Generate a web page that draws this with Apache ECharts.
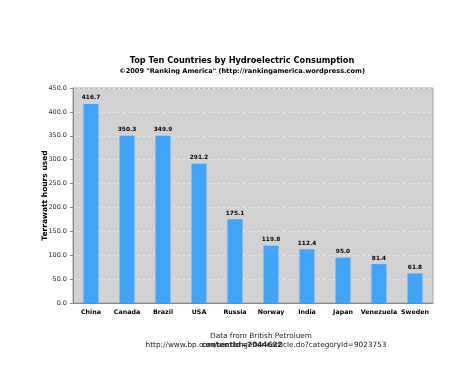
<!DOCTYPE html>
<html>
<head>
<meta charset="utf-8">
<script src="https://cdn.jsdelivr.net/npm/echarts@6/dist/echarts.min.js"></script>
<style>
html, body { margin: 0; padding: 0; background: #fff; }
#chart { width: 474px; height: 366px; }
</style>
</head>
<body>
<div id="chart"></div>
<script>
var countries = ["China", "Canada", "Brazil", "USA", "Russia", "Norway", "India", "Japan", "Venezuela", "Sweden"];
var consumption = [416.7, 350.3, 349.9, 291.2, 175.1, 119.8, 112.4, 95.0, 81.4, 61.8];

var chart = echarts.init(document.getElementById("chart"));
var font = "DejaVu Sans";
chart.setOption({
    animation: false,
    title: [
        {text: "Top Ten Countries by Hydroelectric Consumption", left: 237, top: 52, textAlign: "center",
            textStyle: {fontFamily: font, fontSize: 8.2, fontWeight: "bold", color: "#000"}},
        {text: "\u00a92009 \"Ranking America\" (http://rankingamerica.wordpress.com)", left: 237, top: 63, textAlign: "center",
            textStyle: {fontFamily: font, fontSize: 6.6, fontWeight: "bold", color: "#000"}},
        {text: "Data from British Petroluem", left: 256, top: 328, textAlign: "center",
            textStyle: {fontFamily: font, fontSize: 7.3, fontWeight: "normal", color: "#222"}},
        {text: "http://www.bp.com/sectiongenericarticle.do?categoryId=9023753", left: 261, top: 337, textAlign: "center",
            textStyle: {fontFamily: font, fontSize: 7.3, fontWeight: "normal", color: "#222"}},
        {text: "contentId=7044622", left: 237, top: 337, textAlign: "center",
            textStyle: {fontFamily: font, fontSize: 7.3, fontWeight: "bold", color: "#333"}}
    ],
    grid: {left: 73, right: 41, top: 88, bottom: 63, show: true, backgroundColor: "#d2d2d2",
        borderColor: "#a8a8a8", borderWidth: 1},
    xAxis: {
        type: "category", data: countries,
        axisLine: {lineStyle: {color: "#888"}},
        axisTick: {show: false},
        axisLabel: {fontFamily: font, fontSize: 6.3, fontWeight: "bold", color: "#000", margin: 6, interval: 0}
    },
    yAxis: {
        type: "value", min: 0, max: 450, interval: 50,
        name: "Terrawatt hours used", nameLocation: "middle", nameGap: 24, nameMoveOverlap: false,
        nameTextStyle: {fontFamily: font, fontSize: 7.5, fontWeight: "bold", color: "#000"},
        axisLine: {show: true, lineStyle: {color: "#888"}},
        axisTick: {show: true, length: 3, lineStyle: {color: "#888"}},
        axisLabel: {fontFamily: font, fontSize: 6.5, color: "#333", margin: 6,
            formatter: function (v) { return v.toFixed(1) }},
        splitLine: {lineStyle: {color: "#e6e6e6", type: [2, 3], width: 1}}
    },
    series: [{
        type: "bar", data: consumption, barWidth: 15,
        itemStyle: {color: "#40a4fb"},
        label: {show: true, position: "top", distance: 3, fontFamily: font, fontSize: 5.8, fontWeight: "bold", color: "#000",
            formatter: function (p) { return p.value.toFixed(1) }}
    }]
});
</script>
</body>
</html>
